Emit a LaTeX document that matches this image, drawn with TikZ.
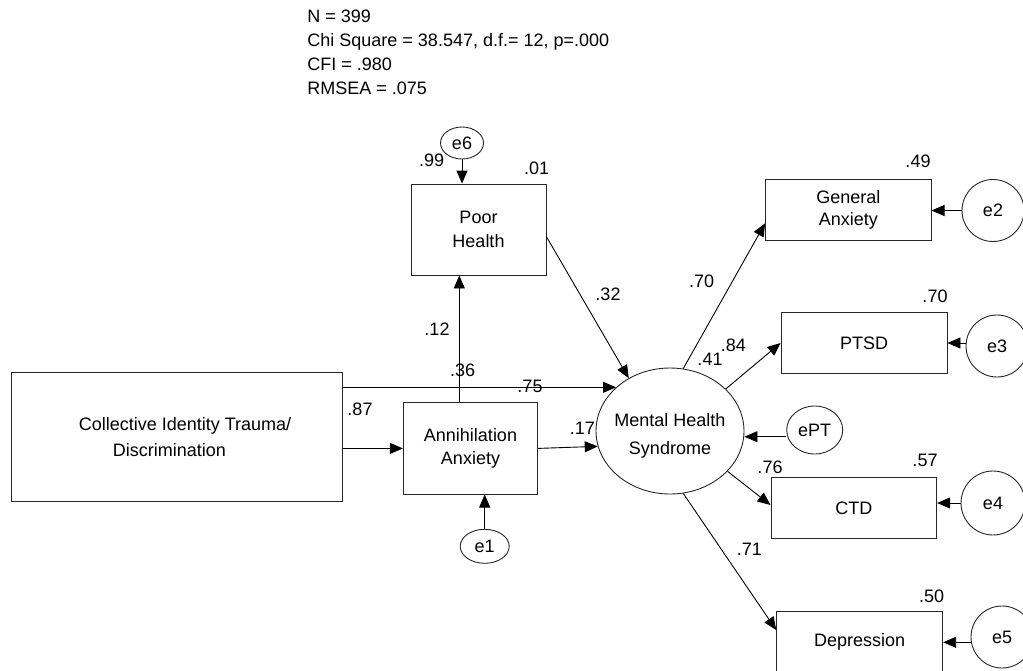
\documentclass[tikz,border=0pt]{standalone}
\usepackage{fontspec}
\setmainfont{Liberation Sans}
\usetikzlibrary{shapes.geometric,arrows.meta}
\begin{document}
\begin{tikzpicture}[x=1pt,y=-1pt,
  font=\fontsize{18pt}{24pt}\selectfont,
  line width=0.9pt,
  box/.style={draw=black!85, rectangle, inner sep=0pt, align=center},
  lat/.style={draw=black!85, ellipse, inner sep=0pt, align=center},
  err/.style={draw=black!85, circle, inner sep=0pt},
  arr/.style={-{Triangle[length=13pt,width=11pt]}},
  lbl/.style={inner sep=0pt}]
\useasboundingbox (0,0) rectangle (1023,670);

% fit statistics
\node[lbl, anchor=west, align=left, font=\fontsize{18pt}{23.9pt}\selectfont] (fit) at (307,52.5)
  {N = 399\\Chi Square = 38.547, d.f.= 12, p=.000\\CFI = .980\\RMSEA = .075};

% observed variables
\node[box, align=left, minimum width=331pt, minimum height=129.4pt,
      font=\fontsize{18pt}{25.7pt}\selectfont] (cit) at (176.5,437)
  {\hspace*{17pt}Collective Identity Trauma/\\\hspace*{51pt}Discrimination};
\node[box, minimum width=135pt, minimum height=91pt] (ph) at (478.5,229.5) {Poor\\Health};
\node[box, minimum width=134.4pt, minimum height=91.3pt,
      font=\fontsize{18pt}{23.3pt}\selectfont] (ann) at (470.5,448.4) {Annihilation\\Anxiety};
\node[box, minimum width=165.5pt, minimum height=61pt,
      font=\fontsize{18pt}{21.7pt}\selectfont] (ga) at (848.3,209.5) {General\\Anxiety};
\node[box, minimum width=166pt, minimum height=60.6pt] (pt) at (864,343) {PTSD};
\node[box, minimum width=165.7pt, minimum height=61pt] (ctd) at (853.8,507.8) {CTD};
\node[box, minimum width=166pt, minimum height=61.3pt] (dep) at (859.7,642.3) {Depression};

% latent variable
\node[lat, inner xsep=-9pt, minimum width=148pt, minimum height=126pt,
      font=\fontsize{18pt}{28.3pt}\selectfont] (mh) at (670,431)
  {\rule{0pt}{23pt}Mental Health\\Syndrome};

% error terms
\node[lat, minimum width=43pt, minimum height=32pt] (e6) at (462,143) {e6};
\node[lat, minimum width=49pt, minimum height=34pt] (e1) at (484.7,546.3) {e1};
\node[lat, minimum width=56pt, minimum height=48pt] (ept) at (814.7,430) {ePT};
\node[err, minimum size=62pt] (e2) at (993,210.5) {e2};
\node[err, minimum size=62pt] (e3) at (997,346) {e3};
\node[err, minimum size=64pt] (e4) at (993,503) {e4};
\node[err, minimum size=62pt] (e5) at (1002,637) {e5};

% structural paths
\draw[arr] (cit.east |- mh.141) -- (mh.141);
\draw[arr] (cit.east |- ann.west) -- (ann.west);
\draw[arr] (ann.east) -- (mh.192);
\draw[arr] ([xshift=-11.2pt]ann.north) -- ([xshift=-11.2pt]ann.north |- ph.south);
\draw[arr] ([yshift=-7.2pt]ph.east) -- (mh.128);

% measurement paths
\draw[arr] (mh.78.5) -- ([yshift=-13.8pt]ga.west);
\draw[arr] (mh.37.8) -- (pt.west);
\draw[arr] (mh.325.5) -- ([yshift=2.8pt]ctd.west);
\draw[arr] (mh.282) -- ([yshift=12.3pt]dep.west);

% error paths
\draw[arr] (e6.south) -- (e6.south |- ph.north);
\draw[arr] (e1.north) -- (e1.north |- ann.south);
\draw[arr] ([yshift=-6.7pt]ept.west) -- ([yshift=-6.7pt]ept.west -| mh.east);
\draw[arr] (e2.west) -- (e2.west -| ga.east);
\draw[arr] (e3.west |- pt.east) -- (pt.east);
\draw[arr] (e4.west) -- (e4.west -| ctd.east);
\draw[arr] (e5.west |- dep.east) -- (dep.east);

% coefficients
\node[lbl] (l99) at (431.7,160.7) {.99};
\node[lbl] (l01) at (536.7,168) {.01};
\node[lbl] (l12) at (437,329) {.12};
\node[lbl] (l36) at (462.7,370.7) {.36};
\node[lbl] (l75) at (530,386.7) {.75};
\node[lbl] (l87) at (360,409) {.87};
\node[lbl] (l17) at (582.3,428.3) {.17};
\node[lbl] (l32) at (608,294) {.32};
\node[lbl] (l70a) at (701.7,281.7) {.70};
\node[lbl] (l84) at (733.3,345) {.84};
\node[lbl] (l41) at (710,359.3) {.41};
\node[lbl] (l49) at (918,161) {.49};
\node[lbl] (l70b) at (935,296) {.70};
\node[lbl] (l76) at (770,467.3) {.76};
\node[lbl] (l57) at (925,460) {.57};
\node[lbl] (l71) at (749.3,549.3) {.71};
\node[lbl] (l50) at (931.7,596) {.50};
\end{tikzpicture}
\end{document}
